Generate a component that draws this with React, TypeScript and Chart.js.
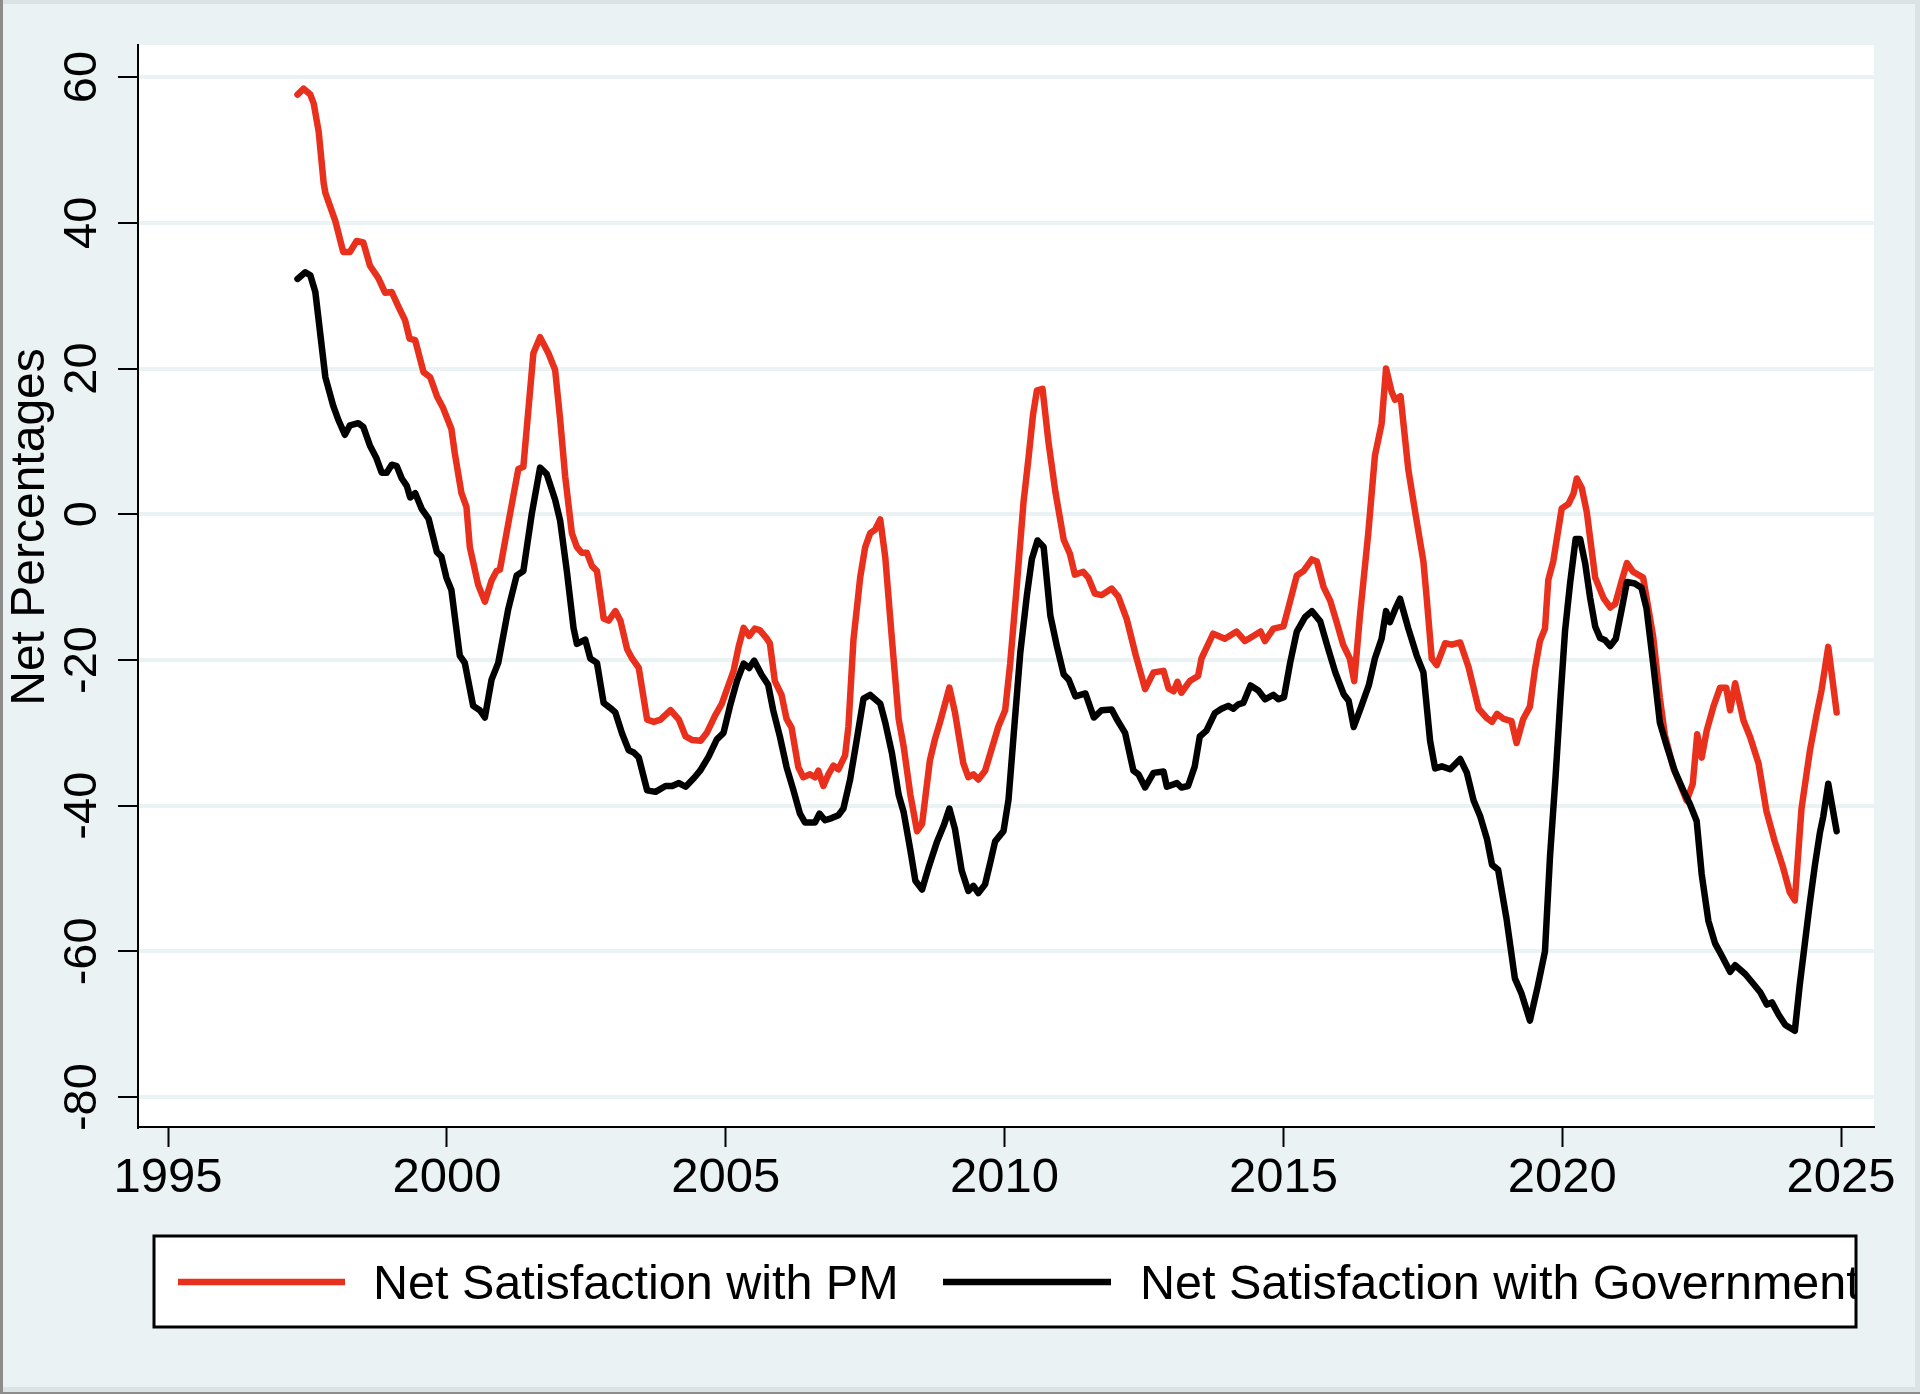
import { useEffect, useRef } from "react"
import { Chart, registerables, type Plugin } from "chart.js"

Chart.register(...registerables)

// values (fractional years)
const pmYears = [
  1997.32, 1997.43, 1997.55, 1997.61, 1997.7, 1997.79, 1997.82, 1998.0, 1998.14, 1998.26,
  1998.38, 1998.5, 1998.62, 1998.77, 1998.89, 1999.01, 1999.13, 1999.25, 1999.33, 1999.43,
  1999.58, 1999.7, 1999.82, 1999.93, 2000.08, 2000.14, 2000.26, 2000.35, 2000.41, 2000.56,
  2000.68, 2000.8, 2000.89, 2000.95, 2001.13, 2001.28, 2001.37, 2001.55, 2001.67, 2001.82,
  2001.94, 2002.03, 2002.12, 2002.24, 2002.33, 2002.42, 2002.51, 2002.6, 2002.69, 2002.81,
  2002.9, 2003.02, 2003.11, 2003.23, 2003.32, 2003.44, 2003.59, 2003.71, 2003.83, 2004.01,
  2004.16, 2004.28, 2004.4, 2004.55, 2004.66, 2004.81, 2004.93, 2005.05, 2005.14, 2005.23,
  2005.32, 2005.42, 2005.52, 2005.61, 2005.73, 2005.79, 2005.88, 2006.0, 2006.09, 2006.18,
  2006.3, 2006.39, 2006.51, 2006.6, 2006.66, 2006.75, 2006.84, 2006.93, 2007.02, 2007.14,
  2007.2, 2007.29, 2007.41, 2007.5, 2007.59, 2007.68, 2007.77, 2007.86, 2007.98, 2008.1,
  2008.19, 2008.31, 2008.43, 2008.52, 2008.66, 2008.75, 2008.84, 2009.01, 2009.11, 2009.26,
  2009.35, 2009.44, 2009.53, 2009.65, 2009.8, 2009.89, 2010.01, 2010.1, 2010.22, 2010.34,
  2010.43, 2010.51, 2010.58, 2010.68, 2010.79, 2010.91, 2011.06, 2011.17, 2011.26, 2011.41,
  2011.5, 2011.62, 2011.74, 2011.92, 2012.04, 2012.19, 2012.35, 2012.52, 2012.67, 2012.85,
  2012.94, 2013.03, 2013.1, 2013.17, 2013.32, 2013.47, 2013.53, 2013.74, 2013.95, 2014.16,
  2014.31, 2014.46, 2014.59, 2014.67, 2014.82, 2015.0, 2015.09, 2015.24, 2015.36, 2015.51,
  2015.6, 2015.72, 2015.84, 2015.95, 2016.07, 2016.19, 2016.27, 2016.37, 2016.52, 2016.64,
  2016.76, 2016.84, 2016.94, 2017.0, 2017.1, 2017.24, 2017.36, 2017.51, 2017.57, 2017.66,
  2017.75, 2017.9, 2018.02, 2018.17, 2018.32, 2018.5, 2018.65, 2018.74, 2018.83, 2018.95,
  2019.09, 2019.18, 2019.3, 2019.42, 2019.51, 2019.6, 2019.69, 2019.75, 2019.84, 2019.99,
  2020.11, 2020.2, 2020.26, 2020.35, 2020.44, 2020.59, 2020.74, 2020.86, 2020.95, 2021.07,
  2021.16, 2021.27, 2021.45, 2021.63, 2021.75, 2021.84, 2021.99, 2022.11, 2022.23, 2022.34,
  2022.42, 2022.5, 2022.59, 2022.71, 2022.83, 2022.94, 2023.01, 2023.1, 2023.25, 2023.37,
  2023.52, 2023.66, 2023.81, 2023.96, 2024.08, 2024.17, 2024.29, 2024.44, 2024.56, 2024.65,
  2024.77, 2024.92,
]
const pmNet = [
  57.6, 58.4, 57.6, 56.4, 52.5, 45.4, 44.1, 40.2, 36.0, 36.0,
  37.5, 37.3, 34.1, 32.4, 30.4, 30.5, 28.5, 26.6, 24.1, 23.9,
  19.5, 18.8, 16.2, 14.6, 11.7, 8.4, 2.9, 1.0, -4.5, -9.7,
  -12.0, -9.1, -7.8, -7.6, 0.0, 6.2, 6.5, 22.1, 24.3, 22.1,
  19.8, 13.0, 5.2, -2.6, -4.5, -5.3, -5.3, -7.1, -7.8, -14.3,
  -14.6, -13.3, -14.6, -18.5, -19.8, -21.1, -28.2, -28.5, -28.2, -26.9,
  -28.2, -30.5, -31.0, -31.1, -30.0, -27.6, -26.0, -23.4, -21.5, -18.2,
  -15.6, -16.7, -15.7, -15.9, -17.0, -17.7, -22.9, -24.8, -28.1, -29.3,
  -34.7, -36.1, -35.7, -36.1, -35.2, -37.3, -35.7, -34.5, -35.0, -33.1,
  -29.1, -17.2, -8.7, -4.5, -2.6, -2.1, -0.7, -5.9, -17.2, -28.1,
  -31.9, -38.5, -43.5, -42.5, -33.8, -30.9, -28.6, -23.8, -27.2, -34.2,
  -36.1, -35.7, -36.4, -35.2, -31.4, -29.1, -26.9, -20.5, -9.7, 1.7,
  7.8, 13.7, 17.0, 17.2, 9.7, 3.1, -3.5, -5.4, -8.3, -7.9,
  -8.7, -10.9, -11.1, -10.2, -11.3, -14.4, -19.3, -24.0, -21.7, -21.5,
  -23.9, -24.3, -23.0, -24.5, -22.9, -22.2, -19.8, -16.4, -17.1, -16.1,
  -17.4, -16.7, -16.1, -17.4, -15.7, -15.4, -12.8, -8.4, -7.8, -6.2,
  -6.5, -10.0, -11.9, -14.7, -17.9, -19.8, -22.9, -14.1, -2.7, 8.0,
  12.4, 20.0, 16.8, 15.7, 16.2, 6.1, 0.4, -6.5, -11.6, -19.8,
  -20.7, -17.7, -17.9, -17.6, -21.0, -26.7, -28.0, -28.5, -27.4, -28.1,
  -28.4, -31.4, -28.1, -26.4, -21.3, -17.4, -15.7, -9.0, -6.4, 0.8,
  1.4, 2.8, 4.9, 3.6, 0.3, -8.7, -11.5, -12.8, -12.3, -9.0,
  -6.7, -7.9, -8.7, -16.8, -25.2, -30.3, -34.8, -37.0, -39.3, -37.0,
  -30.2, -33.4, -29.7, -26.4, -23.8, -23.8, -26.9, -23.2, -28.3, -30.6,
  -34.2, -40.7, -44.9, -48.5, -51.9, -53.0, -40.4, -32.5, -27.5, -24.1,
  -18.2, -27.2,
]

const govYears = [
  1997.32, 1997.46, 1997.55, 1997.64, 1997.82, 1997.96, 1998.05, 1998.17, 1998.26, 1998.41,
  1998.5, 1998.62, 1998.73, 1998.83, 1998.92, 1999.01, 1999.1, 1999.19, 1999.28, 1999.34,
  1999.43, 1999.55, 1999.67, 1999.82, 1999.9, 1999.99, 2000.08, 2000.23, 2000.32, 2000.47,
  2000.59, 2000.68, 2000.8, 2000.92, 2001.1, 2001.25, 2001.37, 2001.52, 2001.67, 2001.79,
  2001.94, 2002.03, 2002.15, 2002.27, 2002.33, 2002.48, 2002.57, 2002.69, 2002.81, 2002.93,
  2003.02, 2003.14, 2003.26, 2003.35, 2003.44, 2003.59, 2003.74, 2003.92, 2004.04, 2004.16,
  2004.28, 2004.43, 2004.54, 2004.69, 2004.84, 2004.96, 2005.08, 2005.2, 2005.32, 2005.42,
  2005.51, 2005.64, 2005.76, 2005.85, 2005.97, 2006.09, 2006.21, 2006.33, 2006.42, 2006.6,
  2006.68, 2006.78, 2006.9, 2007.02, 2007.11, 2007.23, 2007.35, 2007.47, 2007.59, 2007.77,
  2007.86, 2007.98, 2008.1, 2008.19, 2008.31, 2008.4, 2008.52, 2008.64, 2008.79, 2008.91,
  2009.01, 2009.11, 2009.23, 2009.35, 2009.44, 2009.53, 2009.65, 2009.74, 2009.83, 2009.98,
  2010.07, 2010.16, 2010.28, 2010.4, 2010.49, 2010.59, 2010.7, 2010.82, 2010.94, 2011.06,
  2011.15, 2011.27, 2011.45, 2011.6, 2011.74, 2011.92, 2012.01, 2012.16, 2012.31, 2012.4,
  2012.52, 2012.67, 2012.85, 2012.91, 2013.09, 2013.17, 2013.29, 2013.41, 2013.5, 2013.62,
  2013.77, 2013.89, 2014.01, 2014.1, 2014.19, 2014.28, 2014.41, 2014.55, 2014.67, 2014.82,
  2014.91, 2015.01, 2015.12, 2015.24, 2015.39, 2015.51, 2015.66, 2015.78, 2015.93, 2016.08,
  2016.17, 2016.26, 2016.38, 2016.53, 2016.64, 2016.76, 2016.84, 2016.91, 2017.0, 2017.09,
  2017.24, 2017.39, 2017.51, 2017.63, 2017.72, 2017.84, 2017.99, 2018.17, 2018.29, 2018.41,
  2018.53, 2018.65, 2018.74, 2018.85, 2019.0, 2019.15, 2019.27, 2019.42, 2019.56, 2019.69,
  2019.78, 2019.88, 2019.97, 2020.05, 2020.14, 2020.24, 2020.32, 2020.41, 2020.5, 2020.59,
  2020.68, 2020.77, 2020.86, 2020.96, 2021.07, 2021.16, 2021.3, 2021.42, 2021.51, 2021.63,
  2021.75, 2021.87, 2022.02, 2022.17, 2022.29, 2022.41, 2022.5, 2022.62, 2022.74, 2022.86,
  2023.01, 2023.1, 2023.28, 2023.4, 2023.55, 2023.67, 2023.76, 2023.88, 2024.0, 2024.17,
  2024.26, 2024.35, 2024.44, 2024.53, 2024.62, 2024.68, 2024.77, 2024.92,
]
const govNet = [
  32.3, 33.2, 32.8, 30.5, 18.8, 14.9, 13.0, 10.9, 12.2, 12.5,
  12.0, 9.4, 7.8, 5.7, 5.7, 6.8, 6.6, 4.9, 3.9, 2.3,
  2.9, 0.7, -0.6, -5.2, -5.8, -8.7, -10.4, -19.4, -20.4, -26.3,
  -26.9, -27.9, -22.7, -20.4, -13.0, -8.4, -7.8, 0.0, 6.4, 5.5,
  2.0, -0.9, -7.8, -15.6, -17.8, -17.2, -19.8, -20.4, -25.9, -26.6,
  -27.2, -30.1, -32.4, -32.7, -33.4, -37.9, -38.1, -37.3, -37.3, -36.9,
  -37.4, -36.2, -35.2, -33.3, -30.9, -30.0, -26.2, -22.9, -20.5, -21.1,
  -20.1, -22.0, -23.4, -26.9, -30.5, -34.7, -37.8, -41.1, -42.3, -42.3,
  -41.1, -42.0, -41.7, -41.3, -40.4, -36.4, -30.9, -25.3, -24.8, -26.0,
  -28.6, -32.8, -38.5, -40.9, -46.1, -50.3, -51.5, -48.4, -44.9, -42.7,
  -40.4, -43.2, -48.9, -51.7, -51.0, -52.0, -50.8, -47.9, -44.9, -43.5,
  -39.2, -30.5, -19.1, -11.1, -6.1, -3.6, -4.5, -13.9, -18.2, -22.0,
  -22.7, -25.0, -24.6, -27.9, -26.9, -26.8, -28.1, -30.0, -35.2, -35.7,
  -37.5, -35.5, -35.3, -37.4, -36.9, -37.5, -37.3, -34.6, -30.5, -29.7,
  -27.3, -26.7, -26.3, -26.7, -26.1, -25.9, -23.5, -24.2, -25.4, -24.8,
  -25.4, -25.1, -20.4, -16.1, -14.1, -13.3, -14.7, -17.9, -21.7, -24.7,
  -25.6, -29.2, -26.7, -23.5, -19.8, -17.1, -13.3, -14.8, -13.1, -11.6,
  -15.7, -19.4, -21.7, -31.1, -34.9, -34.6, -35.0, -33.6, -35.5, -39.3,
  -41.5, -44.6, -48.1, -48.8, -55.5, -63.7, -65.8, -69.5, -64.8, -60.0,
  -47.0, -36.0, -25.0, -16.0, -9.5, -3.4, -3.4, -6.7, -11.5, -15.4,
  -17.0, -17.3, -18.1, -17.1, -12.9, -9.3, -9.5, -10.1, -12.9, -20.5,
  -28.6, -31.7, -35.3, -37.9, -39.8, -42.1, -49.4, -55.8, -58.9, -60.6,
  -62.8, -61.9, -63.1, -64.2, -65.6, -67.3, -67.0, -68.7, -70.1, -70.9,
  -64.5, -58.9, -53.3, -48.2, -43.7, -41.5, -37.0, -43.5,
]

const xTicks = [1995, 2000, 2005, 2010, 2015, 2020, 2025]
const yTicks = [-80, -60, -40, -20, 0, 20, 40, 60]
const seriesNames = ["Net Satisfaction with PM", "Net Satisfaction with Government"]
const yTitle = "Net Percentages"

const FONT = '"Liberation Sans", Arial, Helvetica, sans-serif'
const BG = "#EAF2F3"
const RED = "#E8301C"

const stataLook: Plugin<"line"> = {
  id: "stataLook",
  beforeDraw(chart) {
    const { ctx, chartArea: a, width, height } = chart
    ctx.save()
    ctx.fillStyle = BG
    ctx.fillRect(0, 0, width, height)
    ctx.fillStyle = "#fff"
    ctx.fillRect(a.left, a.top, a.right - a.left, a.bottom - a.top)
    ctx.restore()
  },
  afterDraw(chart) {
    const { ctx, width, height } = chart
    const y = chart.scales.y
    ctx.save()

    // rotated y tick labels
    ctx.fillStyle = "#000"
    ctx.font = `47px ${FONT}`
    ctx.textAlign = "center"
    ctx.textBaseline = "alphabetic"
    yTicks.forEach((v) => {
      ctx.save()
      ctx.translate(96, y.getPixelForValue(v))
      ctx.rotate(-Math.PI / 2)
      ctx.fillText(String(v), 0, 0)
      ctx.restore()
    })

    // y title
    ctx.font = `48px ${FONT}`
    ctx.save()
    ctx.translate(44, 527)
    ctx.rotate(-Math.PI / 2)
    ctx.fillText(yTitle, 0, 0)
    ctx.restore()

    // legend (text is cut by the box, as in the original)
    const box = { l: 154, t: 1236, r: 1856, b: 1327 }
    ctx.fillStyle = "#fff"
    ctx.fillRect(box.l, box.t, box.r - box.l, box.b - box.t)
    const items = [
      { color: RED, x1: 178, x2: 345, tx: 373 },
      { color: "#000", x1: 943, x2: 1111, tx: 1140 },
    ]
    ctx.save()
    ctx.beginPath()
    ctx.rect(box.l, box.t, box.r - box.l, box.b - box.t)
    ctx.clip()
    ctx.font = `48.5px ${FONT}`
    ctx.textAlign = "left"
    items.forEach((it, i) => {
      ctx.strokeStyle = it.color
      ctx.lineWidth = 6.5
      ctx.beginPath()
      ctx.moveTo(it.x1, 1282)
      ctx.lineTo(it.x2, 1282)
      ctx.stroke()
      ctx.fillStyle = "#000"
      ctx.fillText(seriesNames[i], it.tx, 1299)
    })
    ctx.restore()
    ctx.strokeStyle = "#000"
    ctx.lineWidth = 3
    ctx.strokeRect(box.l, box.t, box.r - box.l, box.b - box.t)

    // outer picture frame
    ctx.fillStyle = "#DCE3E5"
    ctx.fillRect(0, 0, width, 4)
    ctx.fillRect(width - 5, 0, 5, height)
    ctx.fillRect(0, height - 7, width, 7)
    ctx.fillStyle = "#8C8C8C"
    ctx.fillRect(0, 0, 3, height)
    ctx.fillRect(0, height - 2, width, 2)
    ctx.restore()
  },
}

export default function App() {
  const canvasRef = useRef<HTMLCanvasElement | null>(null)
  const chartRef = useRef<Chart<"line"> | null>(null)

  useEffect(() => {
    document.body.style.margin = "0"
    if (!canvasRef.current) return
    if (chartRef.current) chartRef.current.destroy()

    chartRef.current = new Chart(canvasRef.current, {
      type: "line",
      data: {
        datasets: [
          {
            label: seriesNames[0],
            data: pmYears.map((x, i) => ({ x, y: pmNet[i] })),
            borderColor: RED,
            borderWidth: 6.5,
            pointRadius: 0,
            tension: 0,
            borderJoinStyle: "round",
            borderCapStyle: "round",
            order: 2,
          },
          {
            label: seriesNames[1],
            data: govYears.map((x, i) => ({ x, y: govNet[i] })),
            borderColor: "#000",
            borderWidth: 6.5,
            pointRadius: 0,
            tension: 0,
            borderJoinStyle: "round",
            borderCapStyle: "round",
            order: 1,
          },
        ],
      },
      options: {
        animation: false,
        responsive: false,
        devicePixelRatio: 1,
        layout: { padding: { left: 0, right: 46, top: 45, bottom: 0 } },
        plugins: {
          legend: { display: false },
          tooltip: { enabled: false },
        },
        scales: {
          x: {
            type: "linear",
            min: 1994.46,
            max: 2025.59,
            afterBuildTicks: (s) => {
              s.ticks = xTicks.map((value) => ({ value }))
            },
            afterFit: (s) => {
              s.height = 267
            },
            ticks: {
              color: "#000",
              font: { family: FONT, size: 49 },
              padding: 2,
              maxRotation: 0,
              callback: (v) => String(v),
            },
            grid: {
              drawOnChartArea: false,
              tickLength: 20,
              tickColor: "#000",
              tickWidth: 2,
            },
            border: { color: "#000", width: 2 },
          },
          y: {
            type: "linear",
            min: -84.1,
            max: 64.4,
            afterBuildTicks: (s) => {
              s.ticks = yTicks.map((value) => ({ value }))
            },
            afterFit: (s) => {
              s.width = 138
            },
            ticks: { display: false },
            grid: {
              color: BG,
              lineWidth: 4,
              tickLength: 20,
              tickColor: "#000",
              tickWidth: 2,
            },
            border: { color: "#000", width: 2 },
          },
        },
      },
      plugins: [stataLook],
    })

    return () => {
      if (chartRef.current) {
        chartRef.current.destroy()
        chartRef.current = null
      }
    }
  }, [])

  return (
    <div style={{ width: 1920, height: 1394 }}>
      <canvas ref={canvasRef} width={1920} height={1394} style={{ display: "block" }} />
    </div>
  )
}
